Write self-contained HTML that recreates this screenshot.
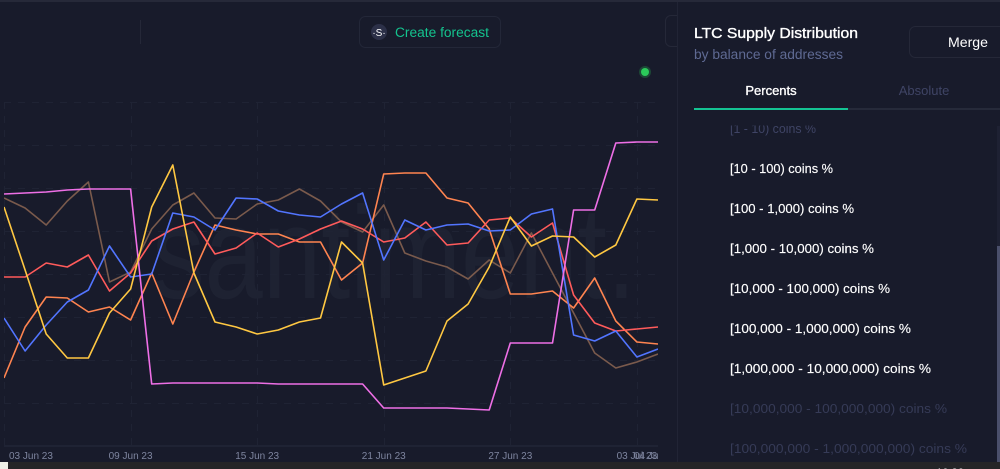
<!DOCTYPE html>
<html lang="en">
<head>
<meta charset="utf-8">
<title>LTC Supply Distribution</title>
<style>
html,body{margin:0;padding:0;background:#181b2b;width:1000px;height:469px;overflow:hidden}
svg{display:block;font-family:"Liberation Sans",sans-serif}
</style>
</head>
<body>
<svg id="root" width="1000" height="469" viewBox="0 0 1000 469">
  <defs>
    <clipPath id="list-clip"><rect x="680" y="125.500" width="316" height="336.500"/></clipPath>
    <clipPath id="plot-clip"><rect x="4" y="90" width="654" height="360"/></clipPath>
    <clipPath id="tick-clip"><rect x="0" y="448" width="659" height="14"/></clipPath>
  </defs>
  <rect width="1000" height="469" fill="#181b2b"/>
  <rect x="0" y="0" width="1000" height="2" fill="#262939"/>
  <rect x="140" y="20" width="1" height="24" fill="#252838"/>

  <text transform="translate(152,298) scale(1,1.25)" font-size="105" textLength="484" lengthAdjust="spacing" fill="#1e2232">santiment.</text>

  <g id="grid"></g>
  <g id="series" clip-path="url(#plot-clip)"></g>
  <g id="x-axis" clip-path="url(#tick-clip)"></g>

  <g>
    <rect x="359.5" y="16.5" width="141" height="31" rx="6" fill="#181b2b" stroke="#232738"/>
    <circle cx="379" cy="32" r="8" fill="#2c3048"/>
    <text x="379" y="36" font-size="10" fill="#fff" text-anchor="middle">·S·</text>
    <text x="395" y="37" font-size="13.5" fill="#14c38e" textLength="94" lengthAdjust="spacingAndGlyphs">Create forecast</text>
  </g>

  <circle cx="645" cy="72" r="6" fill="#1c4736"/>
  <circle cx="645" cy="72" r="4" fill="#2bc95a"/>

  <path d="M677.5 15.5H671a5.500 5.500 0 0 0-5.500 5.500V41a5.500 5.500 0 0 0 5.500 5.500H677.500" fill="none" stroke="#252838"/>
  <rect x="677" y="2" width="1" height="460" fill="#212435"/>

  <text x="694" y="38" font-size="14.500" stroke="#fff" stroke-width="0.35" fill="#fff" textLength="164" lengthAdjust="spacingAndGlyphs">LTC Supply Distribution</text>
  <text x="694" y="59" font-size="13.500" fill="#5f6a93" textLength="149" lengthAdjust="spacingAndGlyphs">by balance of addresses</text>

  <g>
    <rect x="909.5" y="26.5" width="100" height="31" rx="6" fill="#181b2b" stroke="#252838"/>
    <text x="948" y="47" font-size="13.500" fill="#fff" textLength="40" lengthAdjust="spacingAndGlyphs">Merge</text>
  </g>

  <text x="771" y="95" font-size="13" stroke="#fff" stroke-width="0.35" fill="#fff" text-anchor="middle">Percents</text>
  <text x="924" y="95" font-size="13" fill="#3f4465" text-anchor="middle">Absolute</text>
  <rect x="848" y="108" width="152" height="2" fill="#262a3a"/>
  <rect x="694" y="108" width="154" height="2" fill="#14c393"/>

  <g clip-path="url(#list-clip)" font-size="13">
    <text x="730" y="133" fill="#3f4465" textLength="86" lengthAdjust="spacingAndGlyphs">[1 - 10) coins %</text>
    <text x="730" y="173" fill="#fff" stroke="#fff" stroke-width="0.15" textLength="103" lengthAdjust="spacingAndGlyphs">[10 - 100) coins %</text>
    <text x="730" y="213" fill="#fff" stroke="#fff" stroke-width="0.15" textLength="124" lengthAdjust="spacingAndGlyphs">[100 - 1,000) coins %</text>
    <text x="730" y="253" fill="#fff" stroke="#fff" stroke-width="0.15" textLength="144" lengthAdjust="spacingAndGlyphs">[1,000 - 10,000) coins %</text>
    <text x="730" y="293" fill="#fff" stroke="#fff" stroke-width="0.15" textLength="160" lengthAdjust="spacingAndGlyphs">[10,000 - 100,000) coins %</text>
    <text x="730" y="333" fill="#fff" stroke="#fff" stroke-width="0.15" textLength="181" lengthAdjust="spacingAndGlyphs">[100,000 - 1,000,000) coins %</text>
    <text x="730" y="373" fill="#fff" stroke="#fff" stroke-width="0.15" textLength="201" lengthAdjust="spacingAndGlyphs">[1,000,000 - 10,000,000) coins %</text>
    <text x="730" y="413" fill="#363b57" textLength="217" lengthAdjust="spacingAndGlyphs">[10,000,000 - 100,000,000) coins %</text>
    <text x="730" y="453" fill="#363b57" textLength="237" lengthAdjust="spacingAndGlyphs">[100,000,000 - 1,000,000,000) coins %</text>
  </g>

  <rect x="997" y="126" width="3" height="120" fill="#1e2133"/>
  <rect x="997" y="246" width="3" height="216" fill="#4a4f6b"/>

  <rect x="0" y="462" width="1000" height="7" fill="#252527"/>
  <rect x="0" y="462" width="8" height="7" fill="#eef0e8"/>
  <text x="950" y="476" font-size="11" fill="#fff" text-anchor="middle">10:26</text>
</svg>
<script>
const dates = ['03 Jun 23','04 Jun 23','05 Jun 23','06 Jun 23','07 Jun 23','08 Jun 23','09 Jun 23','10 Jun 23','11 Jun 23','12 Jun 23','13 Jun 23','14 Jun 23','15 Jun 23','16 Jun 23','17 Jun 23','18 Jun 23','19 Jun 23','20 Jun 23','21 Jun 23','22 Jun 23','23 Jun 23','24 Jun 23','25 Jun 23','26 Jun 23','27 Jun 23','28 Jun 23','29 Jun 23','30 Jun 23','01 Jul 23','02 Jul 23','03 Jul 23','04 Jul 23'];
const tickLabels = ['03 Jun 23','09 Jun 23','15 Jun 23','21 Jun 23','27 Jun 23','03 Jul 23','04 Jul 23'];
const gridDates = ['03 Jun 23','09 Jun 23','15 Jun 23','21 Jun 23','27 Jun 23','03 Jul 23'];
const gridValues = [342.5,299.5,256.5,213.5,170.5,127.5,84.5,41.5];

const brownValues = [247,237,220,244,263,163,173,216,240,252,227,226,241,245,256,244,223,213,240,192,184,178,166,185,172,212,172,132,92,77,83,91];
const orangeValues = [67,118,148,147,133,138,125,172,121,173,220,215,211,211,203,203,165,182,271,272,272,247,242,216,151,151,154,137,167,124,103,101];
const redValues = [168,168,182,178,190,154,172,204,216,223,191,197,212,198,206,216,224,216,203,207,223,200,202,225,227,208,222,150,122,114,116,118];
const blueValues = [127,94,120,143,155,199,168,171,232,228,215,247,246,234,230,228,241,252,185,225,215,220,221,214,215,231,236,110,104,114,88,96];
const yellowValues = [238,175,111,87,87,132,156,238,280,172,123,118,111,115,123,127,203,182,60,67,74,124,141,178,228,199,209,208,188,200,246,245];
const pinkValues = [251,252,253,255,256,256,256,61,62,62,62,62,62,61,61,61,61,61,37,37,37,37,36,35,102,102,102,235,235,302,303,303];

const NS = 'http://www.w3.org/2000/svg';
const plotLeft = 4, plotRight = 658, plotBottom = 445, plotTop = 102;
function xScale(label) {
  return plotLeft + dates.indexOf(label) * (plotRight - plotLeft) / (dates.length - 1);
}
function yScale(value) {
  return plotBottom - value;
}

const grid = document.getElementById('grid');
gridValues.forEach(function (v) {
  const l = document.createElementNS(NS, 'line');
  
  
  l.setAttribute('x1', plotLeft);
  l.setAttribute('x2', plotRight);
  l.setAttribute('y1', yScale(v));
  l.setAttribute('y2', yScale(v));
  l.setAttribute('stroke', '#1f2334');
  l.setAttribute('stroke-dasharray', '7 7');
  grid.appendChild(l);
});
gridDates.forEach(function (d) {
  const l = document.createElementNS(NS, 'line');
  
  
  const x = Math.round(xScale(d)) + 0.5;
  l.setAttribute('x1', x);
  l.setAttribute('x2', x);
  l.setAttribute('y1', plotTop);
  l.setAttribute('y2', 446);
  l.setAttribute('stroke', '#1f2334');
  l.setAttribute('stroke-dasharray', '7 7');
  grid.appendChild(l);
});
const axisLine = document.createElementNS(NS, 'rect');


axisLine.setAttribute('x', 4);
axisLine.setAttribute('y', 445);
axisLine.setAttribute('width', 654);
axisLine.setAttribute('height', 2);
axisLine.setAttribute('fill', '#1f2334');
grid.appendChild(axisLine);

const xAxis = document.getElementById('x-axis');
tickLabels.forEach(function (label, i) {
  const t = document.createElementNS(NS, 'text');
  
  
  let anchor = 'middle', x = xScale(label);
  if (i === 0) { anchor = 'start'; x = x + 5; }
  if (i === tickLabels.length - 1) { anchor = 'start'; x = x - 24; }
  t.setAttribute('x', x);
  t.setAttribute('y', 459);
  t.setAttribute('text-anchor', anchor);
  t.setAttribute('font-size', '10');
  t.setAttribute('fill', '#7e859f');
  t.textContent = label;
  xAxis.appendChild(t);
});

const seriesGroup = document.getElementById('series');
function drawLine(values, color, name) {
  const p = document.createElementNS(NS, 'polyline');
  
  
  p.setAttribute('points', values.map(function (v, i) {
    return xScale(dates[i]).toFixed(1) + ',' + yScale(v);
  }).join(' '));
  p.setAttribute('fill', 'none');
  p.setAttribute('stroke', color);
  p.setAttribute('stroke-width', '1.6');
  p.setAttribute('stroke-linejoin', 'round');
  seriesGroup.appendChild(p);
}
drawLine(brownValues, '#7a5a4c', 'series-brown-line');
drawLine(orangeValues, '#ff8450', 'series-orange-line');
drawLine(redValues, '#ff5b5b', 'series-red-line');
drawLine(blueValues, '#5275ff', 'series-blue-line');
drawLine(pinkValues, '#ee6fe6', 'series-pink-line');
drawLine(yellowValues, '#ffc842', 'series-yellow-line');
</script>
</body>
</html>
